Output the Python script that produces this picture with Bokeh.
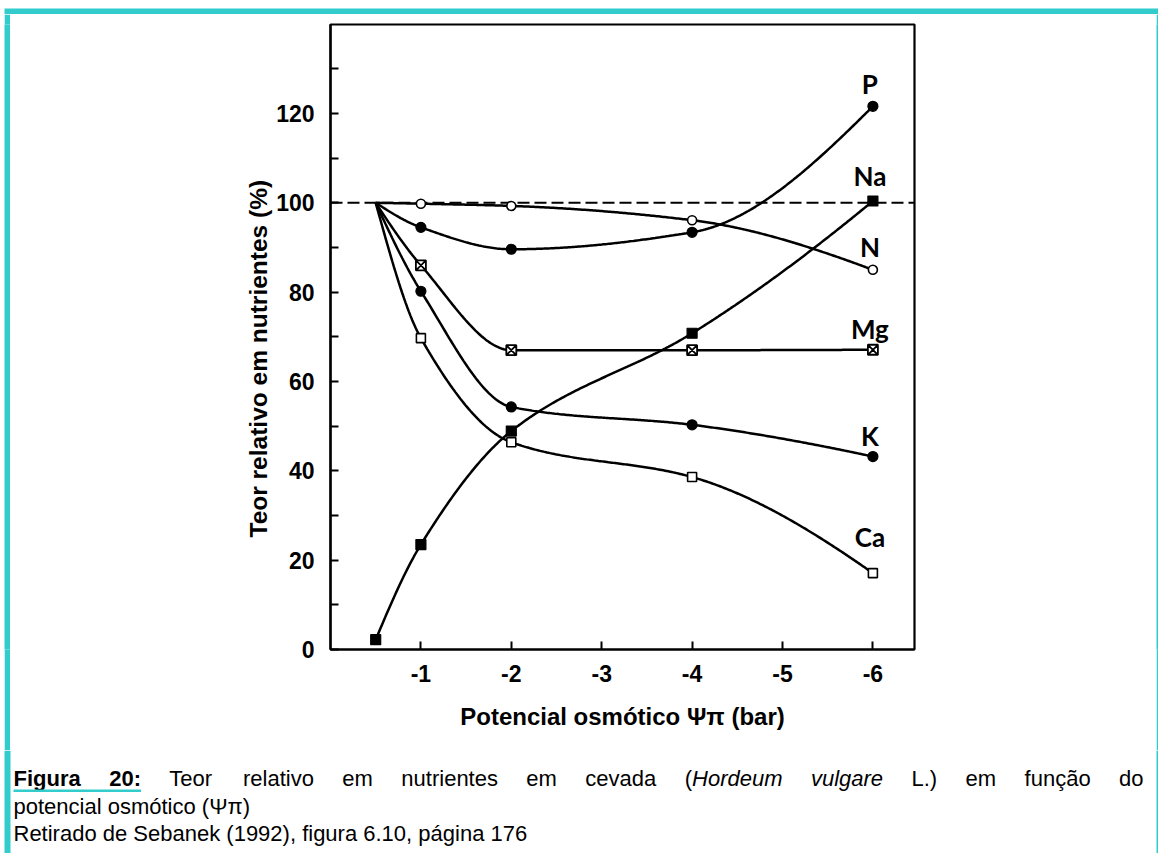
import numpy as np
from bokeh.plotting import figure
from bokeh.layouts import column, row
from bokeh.models import Range1d, FixedTicker, Span, Spacer, Title
from bokeh.core.properties import value
from bokeh.embed import file_html
from bokeh.resources import INLINE

# ---------------- data ----------------
x_pts = [-0.5, -1, -2, -4, -6]
P  = [100, 94.5, 89.6, 93.4, 121.6]
Na = [2.2, 23.5, 48.9, 70.8, 100.4]
N  = [100, 99.8, 99.3, 96.1, 85.0]
Mg = [100, 86.0, 67.0, 67.0, 67.1]
K  = [100, 80.2, 54.3, 50.3, 43.2]
Ca = [100, 69.7, 46.4, 38.6, 17.1]
series_names = ["P", "Na", "N", "Mg", "K", "Ca"]
x_ticks = [-1, -2, -3, -4, -5, -6]
x_tick_labels = ["-1", "-2", "-3", "-4", "-5", "-6"]
y_ticks = [0, 20, 40, 60, 80, 100, 120]
y_minor_ticks = [10, 30, 50, 70, 90, 110, 130]
reference_level = 100
x_title = "Potencial osmótico Ψπ (bar)"
y_title = "Teor relativo em nutrientes (%)"
caption_words = [
    [("Figura", "bold")], [("20:", "bold")], [("Teor", "normal")], [("relativo", "normal")],
    [("em", "normal")], [("nutrientes", "normal")], [("em", "normal")], [("cevada", "normal")],
    [("(", "normal"), ("Hordeum", "italic")], [("vulgare", "italic")], [("L.)", "normal")],
    [("em", "normal")], [("função", "normal")], [("do", "normal")],
]
caption_line2 = "potencial osmótico (Ψπ)"
caption_line3 = "Retirado de Sebanek (1992), figura 6.10, página 176"

series = [P, Na, N, Mg, K, Ca]

# ---------------- styles / layout ----------------
TEAL = "#33cccc"
PAGE_W, PAGE_H = 1158, 853
TOP_H = 14            # top strip  (page y 0..14)
MID_BOTTOM = 750      # chart figure spans page y 14..750
GAP_W, BAND_W = 4, 6  # white gap then teal band on the left
RIGHT_W = 2
CHART_W = PAGE_W - GAP_W - BAND_W - RIGHT_W
CHART_H = MID_BOTTOM - TOP_H
CAP_H = PAGE_H - MID_BOTTOM
CHART_X0 = GAP_W + BAND_W
FRAME_L, FRAME_R, FRAME_T, FRAME_B = 330, 914, 24, 649   # page px
Y_TITLE_START = 537   # page y where the rotated y title begins (its lower end)
FONT = "Liberation Sans"
LINE1_L, LINE1_R = 13, 1143   # justified first caption line

marker_styles = {
    "P":  dict(marker="circle", size=10, fill_color="black", line_color="black", line_width=1.2),
    "Na": dict(marker="square", size=10, fill_color="black", line_color="black", line_width=1.2),
    "N":  dict(marker="circle", size=9, fill_color="white", line_color="black", line_width=1.6),
    "Mg": dict(marker="square_x", size=10, fill_color="white", line_color="black", line_width=1.8),
    "K":  dict(marker="circle", size=10, fill_color="black", line_color="black", line_width=1.2),
    "Ca": dict(marker="square", size=9, fill_color="white", line_color="black", line_width=1.6),
}
label_y_offsets = [-22, -25, -23, -21, -21, -36]


def pchip(xk, yk, xq):
    xk = np.asarray(xk, float); yk = np.asarray(yk, float)
    h = np.diff(xk); d = np.diff(yk) / h
    n = len(xk); m = np.zeros(n)
    for k in range(1, n - 1):
        if d[k - 1] * d[k] > 0:
            w1 = 2 * h[k] + h[k - 1]; w2 = h[k] + 2 * h[k - 1]
            m[k] = (w1 + w2) / (w1 / d[k - 1] + w2 / d[k])

    def end(h0, h1, d0, d1):
        mm = ((2 * h0 + h1) * d0 - h0 * d1) / (h0 + h1)
        if np.sign(mm) != np.sign(d0):
            mm = 0.0
        elif np.sign(d0) != np.sign(d1) and abs(mm) > abs(3 * d0):
            mm = 3 * d0
        return mm
    m[0] = end(h[0], h[1], d[0], d[1])
    m[-1] = end(h[-1], h[-2], d[-1], d[-2])
    idx = np.clip(np.searchsorted(xk, xq) - 1, 0, n - 2)
    t = (xq - xk[idx]) / h[idx]
    h00 = 2 * t**3 - 3 * t**2 + 1
    h10 = t**3 - 2 * t**2 + t
    h01 = -2 * t**3 + 3 * t**2
    h11 = t**3 - t**2
    return h00 * yk[idx] + h10 * h[idx] * m[idx] + h01 * yk[idx + 1] + h11 * h[idx] * m[idx + 1]


def plain_fig(w, h, x0, x1, y0, y1, fill="white"):
    f = figure(width=w, height=h, x_range=Range1d(x0, x1), y_range=Range1d(y0, y1),
               output_backend="svg", toolbar_location=None, min_border=0,
               x_axis_location=None, y_axis_location=None)
    f.grid.visible = False
    f.outline_line_color = None
    f.background_fill_color = fill
    f.border_fill_color = fill
    return f


# ---------------- chart ----------------
x_right_val = -(FRAME_R - FRAME_L) / 90.4
y_top_val = (FRAME_B - FRAME_T) / 4.467

p = figure(width=CHART_W, height=CHART_H, x_range=Range1d(0.0, x_right_val),
           y_range=Range1d(0, y_top_val), output_backend="svg", toolbar_location=None,
           min_border_left=FRAME_L - CHART_X0, min_border_right=CHART_X0 + CHART_W - FRAME_R,
           min_border_top=FRAME_T - TOP_H, min_border_bottom=MID_BOTTOM - FRAME_B)
p.grid.visible = False
p.background_fill_color = "white"
p.border_fill_color = "white"
p.outline_line_color = "black"
p.outline_line_width = 2.2

ya = p.yaxis[0]
ya.ticker = FixedTicker(ticks=y_ticks, minor_ticks=y_minor_ticks)
ya.axis_line_width = 2.2
ya.major_tick_in = 8; ya.major_tick_out = 0; ya.major_tick_line_width = 2
ya.minor_tick_in = 8; ya.minor_tick_out = 0; ya.minor_tick_line_width = 2
ya.major_label_text_font = FONT
ya.major_label_text_font_style = "bold"
ya.major_label_text_font_size = "23px"
ya.major_label_text_color = "black"
ya.major_label_standoff = 16

# y-axis title: a left-side title, so it can sit a little below the frame centre as in the source
p.add_layout(Title(text=y_title, align="left", offset=FRAME_B - Y_TITLE_START, standoff=3,
                   text_font=FONT, text_font_style="bold", text_font_size="24.5px",
                   text_color="black"), "left")

xa = p.xaxis[0]
xa.ticker = FixedTicker(ticks=x_ticks, minor_ticks=[])
xa.major_label_overrides = dict(zip(x_ticks, x_tick_labels))
xa.axis_line_width = 2.2
xa.major_tick_in = 8; xa.major_tick_out = 0; xa.major_tick_line_width = 2
xa.minor_tick_in = 0; xa.minor_tick_out = 0
xa.major_label_text_font = FONT
xa.major_label_text_font_style = "bold"
xa.major_label_text_font_size = "23px"
xa.major_label_text_color = "black"
xa.major_label_standoff = 15
xa.axis_label = x_title
xa.axis_label_text_font = FONT
xa.axis_label_text_font_style = "bold"
xa.axis_label_text_font_size = "24px"
xa.axis_label_text_color = "black"
xa.axis_label_standoff = 18

p.add_layout(Span(location=reference_level, dimension="width", line_color="black",
                  line_width=2, line_dash="12 5", level="underlay"))

mag = -np.asarray(x_pts, float)
xq = np.linspace(mag[0], mag[-1], 300)
for name, ys in zip(series_names, series):
    p.line(-xq, pchip(mag, ys, xq), line_color="black", line_width=2.5)

for name, ys in zip(series_names, series):
    start = 0 if name == "Na" else 1
    p.scatter(x_pts[start:], ys[start:], **marker_styles[name])

p.text(x=[x_pts[-1]] * len(series), y=[s[-1] for s in series], text=series_names,
       text_font=value("Lato"), text_font_style="bold", text_font_size="26px",
       text_align="center", text_baseline="middle", text_color="black",
       x_offset=-3, y_offset=label_y_offsets)

# ---------------- frame strips ----------------
top = plain_fig(PAGE_W, TOP_H, 0, PAGE_W, TOP_H, 0)
top.quad(left=[GAP_W], right=[PAGE_W], top=[8], bottom=[TOP_H], fill_color=TEAL, line_color=None)

gap_sp = Spacer(width=GAP_W, height=CHART_H)
band = plain_fig(BAND_W, CHART_H, 0, 1, 0, 1, fill=TEAL)
right = plain_fig(RIGHT_W, CHART_H, 0, 1, 0, 1, fill=TEAL)

# ---------------- caption ----------------
cap = plain_fig(PAGE_W, CAP_H, 0, PAGE_W, CAP_H, 0)   # y grows downward: page y - MID_BOTTOM
cap.quad(left=[GAP_W, PAGE_W - RIGHT_W], right=[GAP_W + BAND_W, PAGE_W], top=[0, 0],
         bottom=[CAP_H, CAP_H], fill_color=TEAL, line_color=None)

CAP_FS = 22
REG = {' ': 278, 'a': 556, 'b': 556, 'c': 500, 'd': 556, 'e': 556, 'f': 278, 'g': 556, 'h': 556,
       'i': 222, 'k': 500, 'l': 222, 'm': 833, 'n': 556, 'o': 556, 'p': 556, 'r': 333, 's': 500,
       't': 278, 'u': 556, 'v': 500, 'H': 722, 'L': 556, 'T': 611, '(': 333, ')': 333, '.': 278,
       ',': 278, ':': 278, 'ç': 500, 'ã': 556, 'á': 556, 'ó': 556}
BOLD = {' ': 278, 'F': 611, 'i': 278, 'g': 611, 'u': 611, 'r': 389, 'a': 556, ':': 333}


def tw(text, style):
    tab = BOLD if style == "bold" else REG
    return sum(tab.get(ch, 556) for ch in text) / 1000.0 * CAP_FS


line_y = [778 - MID_BOTTOM, 806 - MID_BOTTOM, 833 - MID_BOTTOM]
pieces = {}


def put(text, x, y, style="normal"):
    pieces.setdefault(style, ([], [], []))
    xs, ys, ts = pieces[style]
    xs.append(x); ys.append(y); ts.append(text)


# justified first line (equal gaps between words, like the source document)
word_w = [sum(tw(t, s) for t, s in w) for w in caption_words]
gap = (LINE1_R - LINE1_L - sum(word_w)) / (len(caption_words) - 1)
cx = LINE1_L
ul_end = LINE1_L
for i, w in enumerate(caption_words):
    px = cx
    for t, s in w:
        put(t, px, line_y[0], s)
        px += tw(t, s)
    if i == 1:
        ul_end = px
    cx += word_w[i] + gap
put(caption_line2, LINE1_L, line_y[1])
put(caption_line3, LINE1_L, line_y[2])

for style, (xs, ys, ts) in pieces.items():
    cap.text(x=xs, y=ys, text=ts, text_font=value(FONT), text_font_size=f"{CAP_FS}px",
             text_font_style=style, text_color="black", text_align="left",
             text_baseline="middle")

# teal underline of "Figura 20:"
cap.quad(left=[LINE1_L], right=[ul_end], top=[line_y[0] + 11],
         bottom=[line_y[0] + 13.5], fill_color=TEAL, line_color=None)

layout = column(top, row(gap_sp, band, p, right), cap)
open("out.html", "w").write(file_html(layout, INLINE))
